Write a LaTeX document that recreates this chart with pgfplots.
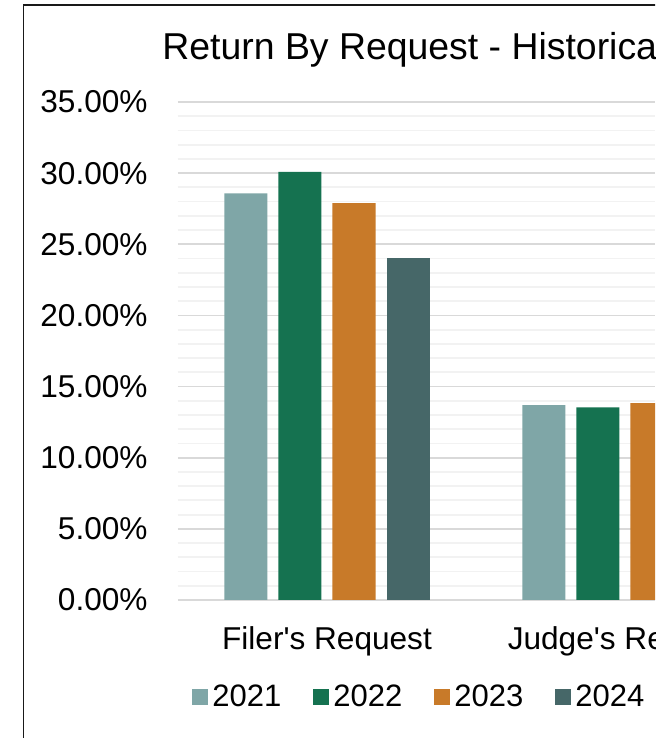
\documentclass[border=0pt]{standalone}
\usepackage{fontspec}
\setmainfont{Liberation Sans}
\usepackage{pgfplots}
\pgfplotsset{compat=1.18}
\definecolor{c21}{RGB}{127,166,167}
\definecolor{c22}{RGB}{21,114,80}
\definecolor{c23}{RGB}{200,122,41}
\definecolor{c24}{RGB}{70,103,104}
\definecolor{gmaj}{RGB}{217,217,217}
\definecolor{gmin}{RGB}{242,242,242}
\begin{document}
\begin{tikzpicture}
\useasboundingbox (0,0) rectangle (327.5pt,369pt);
\clip (0,0) rectangle (327.5pt,369pt);
\fill[white] (0,0) rectangle (327.5pt,369pt);
\draw[line width=0.7pt, black!90] (11.75pt,-5pt) -- (11.75pt,366.5pt) -- (340pt,366.5pt);
\node[anchor=base west, inner sep=0pt, font=\fontsize{18.7}{22}\selectfont] at (81pt,339pt) {Return By Request - Historical Data};
\begin{axis}[
  at={(89pt,69pt)}, anchor=south west, scale only axis,
  width=238.5pt, height=249pt,
  ybar=5.5pt, bar width=21.5pt,
  xmin=-0.5, xmax=1.1007, ymin=0, ymax=35,
  xtick={0,1}, xticklabels={Filer\textquotesingle s Request, Judge\textquotesingle s Request},
  ytick={0,5,...,35}, minor y tick num=4,
  ymajorgrids, yminorgrids, xmajorgrids=false,
  major grid style={draw=gmaj, line width=0.9pt},
  minor grid style={draw=gmin, line width=0.9pt},
  axis line style={draw=none},
  major tick length=0pt, minor tick length=0pt,
  tick style={draw=none},
  /pgf/number format/assume math mode=true,
  yticklabel={\pgfmathprintnumber[fixed,fixed zerofill,precision=2]{\tick}\%},
  yticklabel style={inner sep=0pt, xshift=-15pt, anchor=east},
  xticklabel style={inner sep=0pt, anchor=base, yshift=-24.5pt},
  ticklabel style={font=\fontsize{15.8}{19}\selectfont},
  legend columns=4,
  legend style={draw=none, fill=none, at={(rel axis cs:0.0294,-0.1948)}, anchor=west, inner sep=0pt,
    font=\fontsize{15.5}{18}\selectfont,
    /tikz/every even column/.append style={column sep=14pt}},
  legend image code/.code={\fill[#1] (0pt,-4pt) rectangle (8pt,4pt);},
]
\addplot[fill=c21, draw=none] coordinates {(0,28.57) (1,13.70)};
\addplot[fill=c22, draw=none] coordinates {(0,30.08) (1,13.53)};
\addplot[fill=c23, draw=none] coordinates {(0,27.90) (1,13.84)};
\addplot[fill=c24, draw=none] coordinates {(0,24.03)};
\legend{2021,2022,2023,2024}
\end{axis}
\end{tikzpicture}
\end{document}
